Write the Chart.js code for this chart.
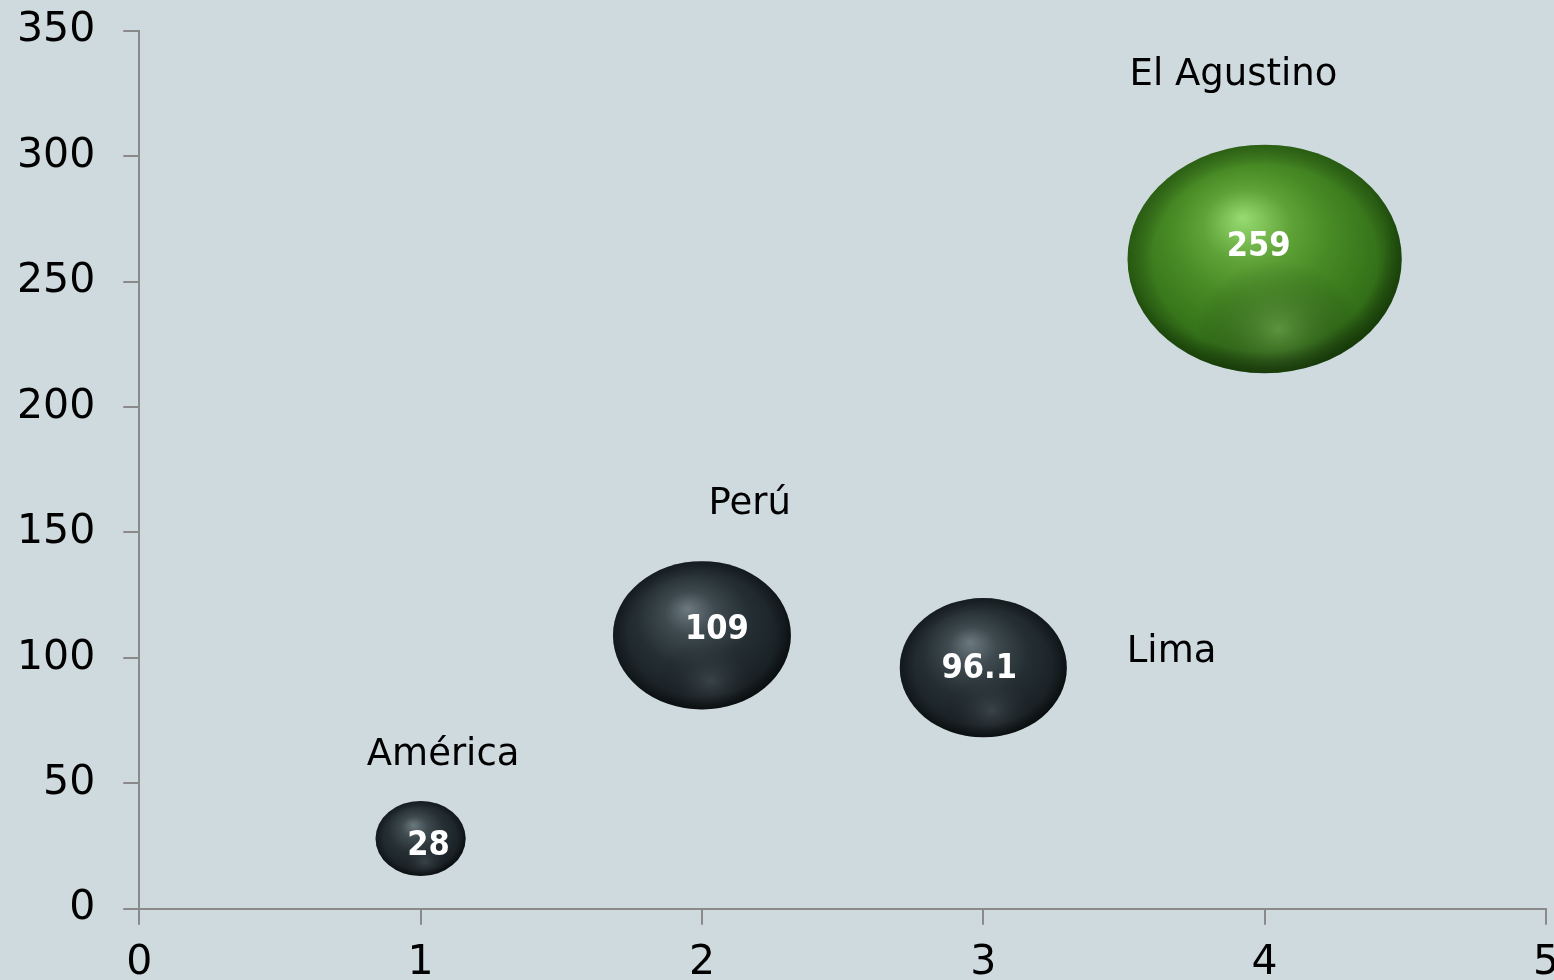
<!DOCTYPE html>
<html>
<head>
<meta charset="utf-8">
<script src="https://cdn.jsdelivr.net/npm/chart.js@4/dist/chart.umd.min.js"></script>
<style>
  html, body { margin: 0; padding: 0; background: #cfdadf; overflow: hidden; }
  #wrap { width: 1596px; height: 1024px; margin-left: -23px; margin-top: -22px; }
</style>
</head>
<body>
<div id="wrap"><canvas id="chart"></canvas></div>
<script>
// data
const names = ["América", "Perú", "Lima", "El Agustino"];
const xValues = [1, 2, 3, 4];
const yValues = [28, 109, 96.1, 259];
const bubbleSizes = [28, 109, 96.1, 259];
const valueLabels = ["28", "109", "96.1", "259"];
const xTicks = [0, 1, 2, 3, 4, 5];
const yTicks = [0, 50, 100, 150, 200, 250, 300, 350];

// where the series names sit, in data units
const nameAnchors = [
  { x: 1.08, y: 61, align: "center" },
  { x: 2.17, y: 161, align: "center" },
  { x: 3.51, y: 102, align: "left" },
  { x: 3.52, y: 332, align: "left" }
];
// small nudges of the value labels inside the balls (px)
const valueNudge = [[8, 8], [15, -5], [-4, 2], [-6, -12]];

const axisColor = "#8a8a8a";
const font = "'DejaVu Sans', sans-serif";

function drawBall(ctx, x, y, ry, green) {
  const rx = ry * 1.2;
  ctx.save();
  ctx.translate(x, y);
  ctx.scale(rx / ry, 1);
  const r = ry;

  let g = ctx.createRadialGradient(-0.16 * r, -0.36 * r, 0, -0.05 * r, -0.1 * r, r * 1.15);
  if (green) {
    g.addColorStop(0, "#97dc72");
    g.addColorStop(0.28, "#5fa237");
    g.addColorStop(0.5, "#488b25");
    g.addColorStop(0.82, "#336f18");
    g.addColorStop(1, "#163a08");
  } else {
    g.addColorStop(0, "#6c797e");
    g.addColorStop(0.25, "#3e4a4f");
    g.addColorStop(0.55, "#252f33");
    g.addColorStop(0.85, "#192125");
    g.addColorStop(1, "#0b0f11");
  }
  ctx.beginPath();
  ctx.arc(0, 0, r, 0, Math.PI * 2);
  ctx.fillStyle = g;
  ctx.fill();

  // soft reflection near the bottom
  ctx.beginPath();
  ctx.arc(0, 0, r, 0, Math.PI * 2);
  ctx.clip();
  let b = ctx.createRadialGradient(0.1 * r, 0.62 * r, 0, 0.1 * r, 0.62 * r, r * 0.6);
  b.addColorStop(0, green ? "rgba(140,190,110,0.4)" : "rgba(120,132,138,0.3)");
  b.addColorStop(1, "rgba(0,0,0,0)");
  ctx.fillStyle = b;
  ctx.fillRect(-r, -r, 2 * r, 2 * r);

  // darker rim
  let e = ctx.createRadialGradient(0, 0, r * 0.82, 0, 0, r);
  e.addColorStop(0, "rgba(0,0,0,0)");
  e.addColorStop(1, green ? "rgba(10,40,0,0.3)" : "rgba(0,0,0,0.3)");
  ctx.fillStyle = e;
  ctx.fillRect(-r, -r, 2 * r, 2 * r);
  ctx.restore();
}

const ballPlugin = {
  id: "balls",
  afterDatasetsDraw(chart) {
    const ctx = chart.ctx;
    const meta = chart.getDatasetMeta(0);
    const xs = chart.scales.x, ys = chart.scales.y;
    meta.data.forEach((el, i) => {
      drawBall(ctx, el.x, el.y, el.options.radius, i === 3);
      ctx.save();
      ctx.fillStyle = "#ffffff";
      ctx.font = "bold 34px 'DejaVu Sans Condensed', 'DejaVu Sans', sans-serif";
      ctx.textAlign = "center";
      ctx.textBaseline = "middle";
      ctx.fillText(valueLabels[i], el.x + valueNudge[i][0], el.y + valueNudge[i][1]);
      ctx.restore();

      const a = nameAnchors[i];
      ctx.save();
      ctx.fillStyle = "#000000";
      ctx.font = "37px " + font;
      ctx.textAlign = a.align;
      ctx.textBaseline = "middle";
      ctx.fillText(names[i], xs.getPixelForValue(a.x), ys.getPixelForValue(a.y));
      ctx.restore();
    });
  }
};

new Chart(document.getElementById("chart"), {
  type: "bubble",
  data: {
    datasets: [{
      label: "Series",
      data: xValues.map((x, i) => ({ x: x, y: yValues[i], v: bubbleSizes[i] })),
      radius: (c) => 7.1 * Math.sqrt(c.raw.v),
      backgroundColor: "rgba(0,0,0,0)",
      borderWidth: 0,
      hoverRadius: 0
    }]
  },
  plugins: [ballPlugin],
  options: {
    responsive: true,
    maintainAspectRatio: false,
    animation: false,
    layout: { autoPadding: false, padding: { left: 12, top: 6, right: 0, bottom: 0 } },
    plugins: { legend: { display: false }, tooltip: { enabled: false } },
    scales: {
      x: {
        type: "linear",
        min: 0, max: 5,
        afterBuildTicks: (s) => { s.ticks = xTicks.map(v => ({ value: v })); },
        grid: { drawOnChartArea: false, drawTicks: true, tickLength: 16, tickWidth: 2, color: axisColor, lineWidth: 2 },
        border: { color: axisColor, width: 2 },
        ticks: { color: "#000", font: { family: font, size: 41 }, padding: 14, maxRotation: 0 }
      },
      y: {
        type: "linear",
        min: 0, max: 350,
        afterBuildTicks: (s) => { s.ticks = yTicks.map(v => ({ value: v })); },
        grid: { drawOnChartArea: false, drawTicks: true, tickLength: 16, tickWidth: 2, color: axisColor, lineWidth: 2 },
        border: { color: axisColor, width: 2 },
        ticks: { color: "#000", font: { family: font, size: 41 }, padding: 28 }
      }
    }
  }
});
</script>
</body>
</html>
